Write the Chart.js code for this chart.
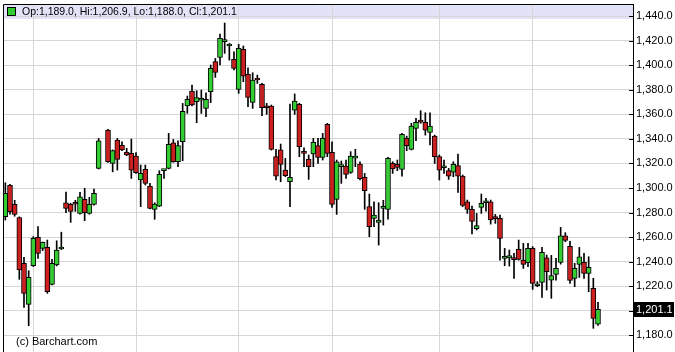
<!DOCTYPE html>
<html>
<head>
<meta charset="utf-8">
<script src="https://cdn.jsdelivr.net/npm/chart.js@4.4.1/dist/chart.umd.min.js"></script>
<style>
  html, body { margin: 0; padding: 0; background: #fff; overflow: hidden; }
  #wrap { width: 675px; height: 352px; position: relative; }
</style>
</head>
<body>
<div id="wrap"><canvas id="myChart"></canvas></div>
<script>
// daily OHLC, one entry per trading slot (null = no bar)
const opens = [
  1276.6, 1302.2, 1286.8, 1276.0, 1238.6, 1205.2, 1236.7, 1259.8, 1250.8, 1251.6,
  1221.5, 1237.3, 1250.3, 1288.0, 1286.7, 1287.0, 1279.3, 1290.7, 1279.3, 1286.7,
  1316.0, null, 1347.2, 1320.0, 1339.0, 1334.7, 1329.3, 1328.2, 1326.0, 1306.5,
  1315.2, 1301.6, 1282.6, 1285.3, 1314.1, 1316.0, 1336.9, 1321.4, 1337.7, 1366.8,
  1379.0, 1370.3, 1371.5, 1364.9, 1378.5, 1402.9, 1406.4, 1419.3, 1415.7, 1404.8,
  1380.4, 1412.9, 1392.6, 1369.8, 1389.3, 1384.4, 1365.7, 1366.8, 1325.5, 1331.0,
  1314.6, 1305.1, 1363.5, 1368.1, 1328.5, 1323.6, 1327.7, 1334.5, 1325.0, 1351.8,
  1329.0, 1290.7, 1317.4, 1317.9, 1312.7, 1324.4, 1319.5, 1308.7, 1284.8, 1275.3,
  1272.0, 1283.4, 1282.6, 1320.0, 1319.3, 1315.2, 1340.4, 1331.5, 1348.6, 1355.4,
  1353.5, 1345.3, 1342.3, 1325.5, 1316.5, 1314.1, 1313.0, 1318.2, 1309.7, 1288.8,
  1282.6, 1266.8, 1284.2, 1288.0, 1288.8, 1275.8, 1275.3, 1242.7, 1243.0, 1242.4,
  1250.0, 1241.3, 1239.2, 1250.8, 1220.4, 1223.1, 1243.2, 1225.0, 1229.6, 1239.4,
  1261.1, 1252.4, 1226.4, 1237.8, 1239.4, 1230.5, 1218.2, 1189.0
];
const highs = [
  1304.3, 1303.0, 1290.0, 1276.5, 1243.5, 1232.6, 1260.4, 1268.5, 1256.0, 1257.6,
  1241.9, 1257.0, 1264.0, 1296.7, 1287.5, 1290.0, 1296.4, 1299.7, 1292.4, 1299.2,
  1340.4, null, 1347.8, 1331.0, 1340.4, 1337.7, 1332.3, 1339.9, 1328.8, 1318.7,
  1318.7, 1303.8, 1288.0, 1314.1, 1314.6, 1344.5, 1339.6, 1338.5, 1368.9, 1374.9,
  1383.9, 1379.3, 1379.8, 1377.6, 1400.2, 1405.6, 1425.4, 1434.4, 1417.8, 1411.0,
  1417.0, 1415.7, 1398.0, 1393.9, 1392.0, 1385.2, 1369.0, 1367.6, 1331.5, 1335.8,
  1324.1, 1368.4, 1376.6, 1369.0, 1332.8, 1326.9, 1340.4, 1340.4, 1344.5, 1352.7,
  1337.7, 1322.8, 1322.0, 1322.8, 1329.6, 1331.5, 1321.4, 1311.9, 1295.1, 1288.8,
  1288.0, 1290.0, 1325.0, 1321.4, 1322.8, 1344.5, 1342.3, 1352.7, 1356.7, 1363.0,
  1361.3, 1361.3, 1343.1, 1326.9, 1322.8, 1316.0, 1321.4, 1327.7, 1310.6, 1290.2,
  1285.3, 1279.3, 1295.1, 1291.6, 1290.2, 1278.5, 1278.0, 1250.8, 1249.5, 1246.8,
  1257.6, 1254.9, 1254.9, 1252.2, 1223.7, 1251.6, 1245.4, 1245.1, 1242.7, 1267.9,
  1263.6, 1256.5, 1238.6, 1251.6, 1246.8, 1244.0, 1226.4, 1206.9
];
const lows = [
  1273.9, 1278.7, 1277.0, 1225.6, 1202.7, 1187.8, 1236.0, 1242.7, 1249.0, 1214.2,
  1221.0, 1236.5, 1249.8, 1279.9, 1272.0, 1281.0, 1278.7, 1273.4, 1278.7, 1286.0,
  1315.5, null, 1320.8, 1313.2, 1314.6, 1330.4, 1326.3, 1307.8, 1311.9, 1284.8,
  1302.4, 1282.9, 1274.5, 1284.8, 1307.8, 1315.5, 1320.9, 1317.4, 1322.2, 1360.8,
  1366.8, 1353.2, 1360.8, 1358.1, 1369.5, 1390.1, 1400.2, 1409.7, 1404.2, 1396.1,
  1377.1, 1386.6, 1366.2, 1364.9, 1385.2, 1358.9, 1360.0, 1330.9, 1306.5, 1305.1,
  1309.2, 1284.8, 1360.0, 1325.5, 1317.4, 1307.0, 1317.4, 1320.0, 1322.8, 1325.5,
  1284.2, 1278.5, 1303.8, 1307.8, 1311.9, 1317.4, 1306.5, 1282.6, 1260.3, 1268.5,
  1253.5, 1269.8, 1274.7, 1311.9, 1314.1, 1309.7, 1330.4, 1331.0, 1338.5, 1352.7,
  1343.1, 1335.0, 1320.0, 1306.5, 1311.9, 1307.0, 1309.2, 1296.4, 1284.8, 1279.3,
  1262.5, 1265.8, 1279.3, 1281.2, 1270.6, 1271.2, 1241.3, 1236.7, 1236.4, 1226.4,
  1241.3, 1234.5, 1235.9, 1217.4, 1219.6, 1210.9, 1216.9, 1210.1, 1225.0, 1238.0,
  1256.2, 1222.3, 1219.6, 1227.2, 1226.4, 1215.5, 1185.7, 1188.0
];
const closes = [
  1295.7, 1280.7, 1278.4, 1233.2, 1214.2, 1227.2, 1259.0, 1246.8, 1255.7, 1215.5,
  1238.6, 1249.5, 1250.3, 1283.4, 1281.0, 1286.8, 1292.9, 1279.9, 1286.7, 1295.6,
  1338.5, null, 1321.4, 1330.4, 1323.3, 1331.0, 1326.9, 1314.6, 1312.5, 1311.9,
  1303.8, 1283.4, 1286.9, 1311.1, 1314.4, 1335.5, 1321.4, 1334.5, 1362.4, 1372.2,
  1367.6, 1373.6, 1371.9, 1372.2, 1397.5, 1394.2, 1421.9, 1420.0, 1415.7, 1397.5,
  1413.8, 1391.2, 1373.8, 1388.0, 1388.0, 1365.4, 1365.4, 1331.5, 1309.7, 1319.3,
  1310.0, 1308.7, 1370.8, 1333.6, 1328.2, 1317.4, 1337.2, 1325.0, 1340.4, 1328.2,
  1286.7, 1321.4, 1318.7, 1311.1, 1326.0, 1326.0, 1307.6, 1297.8, 1268.5, 1278.0,
  1273.9, 1283.7, 1324.1, 1315.5, 1316.8, 1343.7, 1334.5, 1350.5, 1353.5, 1353.7,
  1347.2, 1350.5, 1325.5, 1314.6, 1316.8, 1309.7, 1319.3, 1309.7, 1285.9, 1282.6,
  1272.8, 1269.3, 1287.5, 1288.2, 1273.9, 1275.0, 1259.0, 1244.0, 1244.9, 1241.6,
  1241.9, 1237.8, 1250.8, 1222.3, 1220.4, 1247.6, 1231.8, 1228.6, 1234.5, 1261.1,
  1257.3, 1224.8, 1234.5, 1244.0, 1230.5, 1235.3, 1193.8, 1201.1
];

const slotCount = 135;                       // trading slots on the x axis
const monthStarts = [6, 28, 50, 70, 93, 113]; // first bar of each month
const priceTicks = [1440, 1420, 1400, 1380, 1360, 1340, 1320, 1300, 1280, 1260, 1240, 1220, 1200, 1180];
const yMin = 1166.4;
const yMax = 1449.9;

const green = "#33cc33";
const red = "#cc2020";
const gridColor = "#d6d6d6";

const fmt = (v) => v.toLocaleString("en-US", { minimumFractionDigits: 1, maximumFractionDigits: 1 });

const last = closes.length - 1;
const lastClose = closes[last];
const headerText = "Op:" + fmt(opens[last]) + ", Hi:" + fmt(highs[last]) +
  ", Lo:" + fmt(lows[last]) + ", Cl:" + fmt(closes[last]);

const days = Array.from({ length: slotCount }, (_, i) => String(i));
const bodies = opens.map((o, i) => (o === null ? null : [o, closes[i]]));
const wicks = opens.map((o, i) => (o === null ? null : [lows[i], highs[i]]));

// header band, frame lines, inner tick marks, last price box, copyright
const frame = {
  id: "frame",
  beforeDraw(chart) {
    const { ctx, chartArea: a } = chart;
    ctx.save();
    ctx.fillStyle = "#e3e3f8";
    ctx.fillRect(a.left, a.top, a.right - a.left, 15);
    ctx.restore();
  },
  afterDraw(chart) {
    const { ctx, chartArea: a } = chart;
    const y = chart.scales.y;
    ctx.save();
    ctx.strokeStyle = "#000";
    ctx.lineWidth = 1;
    ctx.beginPath();
    ctx.moveTo(a.left + 0.5, a.bottom);
    ctx.lineTo(a.left + 0.5, a.top + 0.5);
    ctx.lineTo(a.right, a.top + 0.5);
    priceTicks.forEach((v) => {
      const py = Math.round(y.getPixelForValue(v)) + 0.5;
      ctx.moveTo(a.right - 4, py);
      ctx.lineTo(a.right, py);
    });
    ctx.stroke();

    ctx.fillStyle = green;
    ctx.fillRect(a.left + 5, a.top + 4, 7, 7);
    ctx.strokeRect(a.left + 4.5, a.top + 3.5, 8, 8);

    ctx.textBaseline = "middle";
    ctx.fillStyle = "#000";
    ctx.font = "10.5px 'Liberation Sans'";
    ctx.fillText(headerText, a.left + 19, a.top + 8);
    ctx.font = "11px 'Liberation Sans'";
    ctx.fillText("(c) Barchart.com", a.left + 13, 342);

    const py = y.getPixelForValue(lastClose);
    ctx.fillRect(a.right + 1, Math.round(py) - 7, 40, 15);
    ctx.fillStyle = "#fff";
    ctx.fillText(fmt(lastClose), a.right + 3, py + 1);
    ctx.restore();
  },
};

const ctx = document.getElementById("myChart");

new Chart(ctx, {
  type: "bar",
  data: {
    labels: days,
    datasets: [
      {
        label: "body",
        data: bodies,
        backgroundColor: (c) => (closes[c.dataIndex] >= opens[c.dataIndex] ? green : red),
        borderColor: "#000",
        borderWidth: 1,
        borderSkipped: false,
        barThickness: 5,
        minBarLength: 2,
        grouped: false,
        order: 0,
      },
      {
        label: "wick",
        data: wicks,
        backgroundColor: "#000",
        borderWidth: 0,
        barThickness: 1,
        grouped: false,
        order: 1,
      },
    ],
  },
  options: {
    responsive: true,
    maintainAspectRatio: false,
    animation: false,
    layout: { padding: { left: 3, top: 4, right: 0, bottom: 0 } },
    plugins: {
      legend: { display: false },
      tooltip: { enabled: false },
    },
    scales: {
      x: {
        offset: true,
        grid: {
          offset: false,
          drawTicks: false,
          color: (c) => (monthStarts.includes(c.index) ? gridColor : "rgba(0,0,0,0)"),
        },
        border: { display: false },
        ticks: { display: false, autoSkip: false },
        afterFit: (s) => {
          s.height = 0;
          s.paddingLeft = 0;
          s.paddingRight = 0;
        },
      },
      y: {
        position: "right",
        min: yMin,
        max: yMax,
        afterBuildTicks: (s) => {
          s.ticks = priceTicks.map((v) => ({ value: v }));
        },
        grid: { color: gridColor, drawTicks: false },
        border: { color: "#000" },
        ticks: {
          font: { family: "Liberation Sans", size: 11 },
          color: "#000",
          padding: 3,
          callback: (v) => (Math.abs(v - lastClose) < 8 ? "" : fmt(v)),
        },
        afterFit: (s) => {
          s.width = 42;
          s.paddingTop = 0;
          s.paddingBottom = 0;
        },
      },
    },
  },
  plugins: [frame],
});
</script>
</body>
</html>
